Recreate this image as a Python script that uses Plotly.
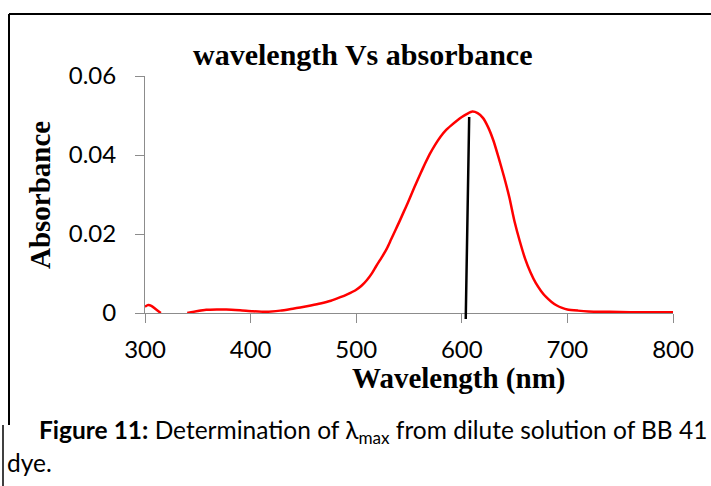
import plotly.graph_objects as go

# UV-Vis spectrum of the dilute BB 41 dye solution
wavelength = [300, 303, 306, 310, 313, 315, None,
              340, 350, 358, 368, 377, 390, 402, 415, 428, 440, 447, 457, 466,
              476, 485, 492, 499, 505, 510, 515, 519, 524, 529, 533, 537, 541,
              545, 549, 553, 557, 561, 565, 570, 575, 580, 585, 590, 595, 600,
              605, 610, 615, 620, 625, 630, 635, 640, 645, 650, 655, 660, 665,
              670, 675, 680, 685, 690, 695, 700, 710, 720, 740, 760, 780, 800]
absorbance = [0.0016, 0.0020, 0.0018, 0.0010, 0.0004, 0.0, None,
              0.0, 0.0005, 0.0008, 0.0009, 0.0009, 0.0007, 0.00045, 0.0003, 0.0006,
              0.0011, 0.0014, 0.0019, 0.0024, 0.0031, 0.0040, 0.0048, 0.0057,
              0.0069, 0.0083, 0.0101, 0.0119, 0.0140, 0.0163, 0.0186, 0.0209,
              0.0232, 0.0256, 0.0280, 0.0305, 0.0330, 0.0354, 0.0377, 0.0404,
              0.0427, 0.0447, 0.0463, 0.0475, 0.0486, 0.0496, 0.0504, 0.0510,
              0.0506, 0.0494, 0.0470, 0.0436, 0.0392, 0.0345, 0.0293, 0.0231,
              0.0181, 0.0137, 0.0103, 0.0076, 0.0056, 0.0040, 0.0028, 0.0019,
              0.0013, 0.0009, 0.0006, 0.0004, 0.0003, 0.0002, 0.0002, 0.0002]

# lambda-max marker line (bottom end, top end)
lambda_x = [603.7, 607.0]
lambda_y = [-0.0019, 0.0496]

x_ticks = [300, 400, 500, 600, 700, 800]
y_ticks = [0, 0.02, 0.04, 0.06]
y_tick_text = ["0", "0.02", "0.04", "0.06"]

W, H = 711, 486
L, R, T, B = 145, 38, 76, 173
PW, PH = W - L - R, H - T - B


def px(xp):
    return (xp - L) / PW


def py(yp):
    return (H - B - yp) / PH


SERIF = "Liberation Serif"
SANS = "Lato"

fig = go.Figure()
fig.add_trace(go.Scatter(
    x=wavelength, y=absorbance, mode="lines",
    line=dict(color="#ff0000", width=2.5, shape="spline", smoothing=0.6),
    connectgaps=False, hoverinfo="skip", showlegend=False,
))

# black lambda-max line, drawn as an arrow so it may run past the axis
fig.add_annotation(
    x=lambda_x[1], y=lambda_y[1], ax=lambda_x[0], ay=lambda_y[0],
    xref="x", yref="y", axref="x", ayref="y",
    text="", showarrow=True, arrowhead=0, arrowwidth=2.5,
    arrowcolor="#000000", standoff=0, startstandoff=0,
)

fig.update_xaxes(
    range=[300, 800], tickvals=x_ticks, ticks="outside", ticklen=9,
    tickcolor="#8c8c8c", showline=True, linecolor="#8c8c8c", linewidth=1,
    showgrid=False, zeroline=False, ticklabelstandoff=6,
    tickfont=dict(family=SANS, size=24, color="#000000"),
)
fig.update_yaxes(
    range=[0, 0.06], tickvals=y_ticks, ticktext=y_tick_text, ticks="outside",
    ticklen=9, tickcolor="#8c8c8c", showline=True, linecolor="#8c8c8c",
    linewidth=1, showgrid=False, zeroline=False, ticklabelstandoff=14,
    tickfont=dict(family=SANS, size=24, color="#000000"),
)


def label(xp, yp, text, size, family, **kw):
    fig.add_annotation(x=px(xp), y=py(yp), xref="paper", yref="paper",
                       text=text, showarrow=False,
                       xanchor=kw.pop("xanchor", "center"),
                       yanchor=kw.pop("yanchor", "middle"),
                       font=dict(family=family, size=size, color="#000000"),
                       **kw)


# chart title and axis titles
label(362, 55, "<b>wavelength Vs absorbance</b>", 30, SERIF)
label(40, 195, "<b>Absorbance</b>", 29, SERIF, textangle=-90)
label(458, 378, "<b>Wavelength (nm)</b>", 29, SERIF)

# figure caption
label(37, 432,
      "<b>Figure 11:</b> Determination of λ<sub>max</sub> from dilute solution of BB 41",
      24.5, SANS, xanchor="left")
label(5, 462, "dye.", 24.5, SANS, xanchor="left")

# frame lines around the chart and caption blocks
frame = dict(color="#000000", width=2)
fig.add_shape(type="line", xref="paper", yref="paper",
              x0=px(9), x1=px(W), y0=py(14), y1=py(14), line=frame)
fig.add_shape(type="line", xref="paper", yref="paper",
              x0=px(9), x1=px(9), y0=py(14), y1=py(425), line=frame)
fig.add_shape(type="line", xref="paper", yref="paper",
              x0=px(3), x1=px(3), y0=py(425), y1=py(H),
              line=dict(color="#000000", width=1.5))

fig.update_layout(
    width=W, height=H, margin=dict(l=L, r=R, t=T, b=B),
    paper_bgcolor="#ffffff", plot_bgcolor="#ffffff",
)

fig.write_html("out.html")
